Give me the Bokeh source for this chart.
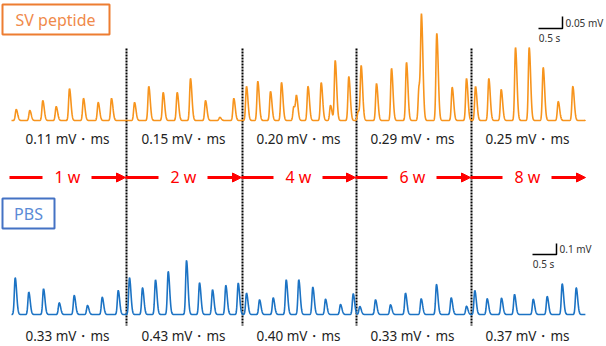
import numpy as np
from bokeh.plotting import figure
from bokeh.models import Range1d, Label, Arrow, NormalHead
from bokeh.embed import file_html
from bokeh.resources import INLINE

W, H = 606, 346
FONT = "Noto Sans"

# ---------------- data ----------------
weeks = ["1 w", "2 w", "4 w", "6 w", "8 w"]
sv_auc = ["0.11 mV・ms", "0.15 mV・ms", "0.20 mV・ms", "0.29 mV・ms", "0.25 mV・ms"]
pbs_auc = ["0.33 mV・ms", "0.43 mV・ms", "0.40 mV・ms", "0.33 mV・ms", "0.37 mV・ms"]

# SV peptide trace: peak times (s) and amplitudes (mV)
sv_peak_t = [0.098, 0.381, 0.652, 0.931, 1.208, 1.500, 1.806, 2.083,
             2.563, 2.860, 3.160, 3.452, 3.729, 4.042, 4.340, 4.631,
             4.896, 5.131, 5.396, 5.625, 5.881, 5.938, 6.177, 6.452, 6.646, 6.744, 7.027,
             7.223, 7.285, 7.604, 7.917, 8.229, 8.490, 8.542, 8.860, 9.181, 9.479,
             9.667, 9.944, 10.202, 10.500, 10.785, 11.077, 11.390, 11.694, 12.000]
sv_peak_mv = [0.046, 0.042, 0.083, 0.058, 0.133, 0.092, 0.075, 0.092,
              0.075, 0.142, 0.117, 0.117, 0.175, 0.083, 0.013, 0.092,
              0.142, 0.163, 0.121, 0.158, 0.058, 0.096, 0.142, 0.158, 0.063, 0.250, 0.183,
              0.038, 0.225, 0.154, 0.217, 0.242, 0.140, 0.413, 0.363, 0.138, 0.175,
              0.142, 0.175, 0.129, 0.304, 0.304, 0.221, 0.079, 0.142, 0.040]

# PBS trace: peak times (s) and amplitudes (mV)
pbs_peak_t = [0.077, 0.360, 0.667, 0.994, 1.306, 1.583, 1.890, 2.223,
              2.458, 2.729, 3.000, 3.265, 3.646, 3.917, 4.188, 4.465, 4.723,
              4.896, 5.167, 5.452, 5.723, 5.985, 6.277, 6.542, 6.854, 7.119,
              7.256, 7.583, 7.896, 8.208, 8.535, 8.854, 9.160, 9.479,
              9.652, 9.910, 10.208, 10.479, 10.869, 11.160, 11.473, 11.765]
pbs_peak_mv = [0.334, 0.203, 0.234, 0.106, 0.173, 0.082, 0.157, 0.218,
               0.334, 0.243, 0.315, 0.391, 0.491, 0.288, 0.225, 0.264, 0.285,
               0.194, 0.134, 0.152, 0.315, 0.315, 0.248, 0.139, 0.091, 0.188,
               0.073, 0.134, 0.088, 0.194, 0.143, 0.273, 0.152, 0.075,
               0.218, 0.143, 0.148, 0.182, 0.139, 0.164, 0.279, 0.243]

rec_len_s = 11.958

# ---------------- layout constants (pixels) ----------------
PX_PER_S = 48.0
X0 = 11.0                    # pixel where t = 0
SV_BASE, SV_PX_PER_MV = 120.0, 240.0
PBS_BASE, PBS_PX_PER_MV = 314.0, 110.0
bounds_px = [9, 125, 241, 355, 470, 585]
seg_centers = [67, 183, 298, 412, 527]


def render(peak_t, peak_a, t):
    y = np.zeros_like(t)
    for tc, a in zip(peak_t, peak_a):
        d = t - tc
        s = np.where(d < 0, 0.018, 0.03)
        y += a * np.exp(-0.5 * (d / s) ** 2)
    return y


t = np.arange(0.0, rec_len_s, 0.004)
sv_y = render(sv_peak_t, sv_peak_mv, t)
pbs_y = render(pbs_peak_t, pbs_peak_mv, t)

p = figure(width=W, height=H, x_range=Range1d(0, W), y_range=Range1d(H, 0),
           output_backend="svg", toolbar_location=None, min_border=0,
           x_axis_location=None, y_axis_location=None)
p.grid.visible = False
p.outline_line_color = None
p.background_fill_color = "white"
p.border_fill_color = "white"

p.extra_x_ranges = {"t": Range1d(-X0 / PX_PER_S, (W - X0) / PX_PER_S)}
p.extra_y_ranges = {
    "sv": Range1d(-(H - SV_BASE) / SV_PX_PER_MV, SV_BASE / SV_PX_PER_MV),
    "pbs": Range1d(-(H - PBS_BASE) / PBS_PX_PER_MV, PBS_BASE / PBS_PX_PER_MV),
}

# dotted separators
sep = [b + 1 for b in bounds_px[1:-1]]
p.segment(x0=sep, y0=[48] * 4, x1=sep, y1=[325] * 4, line_color="black",
          line_width=2, line_dash="2 1")

# traces
p.line(t, sv_y, x_range_name="t", y_range_name="sv", line_color="#F7941D", line_width=1.6)
p.line(t, pbs_y, x_range_name="t", y_range_name="pbs", line_color="#1C73C4", line_width=1.6)

# scale bars (0.5 s and amplitude)
def scalebar(corner_px_x, corner_px_y, base, px_per_mv, amp, rname, lab_amp, lab_s):
    tc = (corner_px_x - X0) / PX_PER_S
    vc = (base - corner_px_y) / px_per_mv
    p.line([tc - 0.5, tc, tc], [vc, vc, vc + amp], x_range_name="t", y_range_name=rname,
           line_color="black", line_width=1.5)
    p.add_layout(Label(x=corner_px_x + 3, y=corner_px_y - 6, text=lab_amp, text_font=FONT,
                       text_font_size="10px", text_color="#333333", text_baseline="middle"))
    p.add_layout(Label(x=corner_px_x - 13, y=corner_px_y + 9, text=lab_s, text_font=FONT,
                       text_font_size="10px", text_color="#333333", text_baseline="middle",
                       text_align="center"))

scalebar(562, 28, SV_BASE, SV_PX_PER_MV, 0.05, "sv", "0.05 mV", "0.5 s")
scalebar(556, 254, PBS_BASE, PBS_PX_PER_MV, 0.1, "pbs", "0.1 mV", "0.5 s")

# group boxes
p.quad(left=[2], right=[109], top=[4], bottom=[34], fill_color="white",
       line_color="#ED7D31", line_width=2)
p.add_layout(Label(x=55, y=19, text="SV peptide", text_font=FONT, text_font_size="16px",
                   text_color="#F08A4B", text_align="center", text_baseline="middle"))
p.quad(left=[2], right=[54], top=[198], bottom=[228], fill_color="white",
       line_color="#4472C4", line_width=2)
p.add_layout(Label(x=28, y=213, text="PBS", text_font=FONT, text_font_size="16px",
                   text_color="#5B8BD6", text_align="center", text_baseline="middle"))

# AUC labels
for c, s1, s2 in zip(seg_centers, sv_auc, pbs_auc):
    p.add_layout(Label(x=c, y=138, text=s1, text_font=FONT, text_font_size="13.5px",
                       text_color="#222222", text_align="center", text_baseline="middle"))
    p.add_layout(Label(x=c, y=335, text=s2, text_font=FONT, text_font_size="13.5px",
                       text_color="#222222", text_align="center", text_baseline="middle"))

# week arrows
AY = 177
for i, (c, w) in enumerate(zip(seg_centers, weeks)):
    L, R = bounds_px[i], bounds_px[i + 1]
    p.segment(x0=[L], y0=[AY], x1=[c - 25], y1=[AY], line_color="red", line_width=3)
    p.add_layout(Arrow(end=NormalHead(size=9, fill_color="red", line_color="red"),
                       x_start=c + 24, y_start=AY, x_end=R, y_end=AY,
                       line_color="red", line_width=3))
    p.add_layout(Label(x=c, y=AY - 1, text=w, text_font=FONT, text_font_size="16px",
                       text_color="#FF0000", text_align="center", text_baseline="middle"))

open("out.html", "w").write(file_html(p, INLINE))
